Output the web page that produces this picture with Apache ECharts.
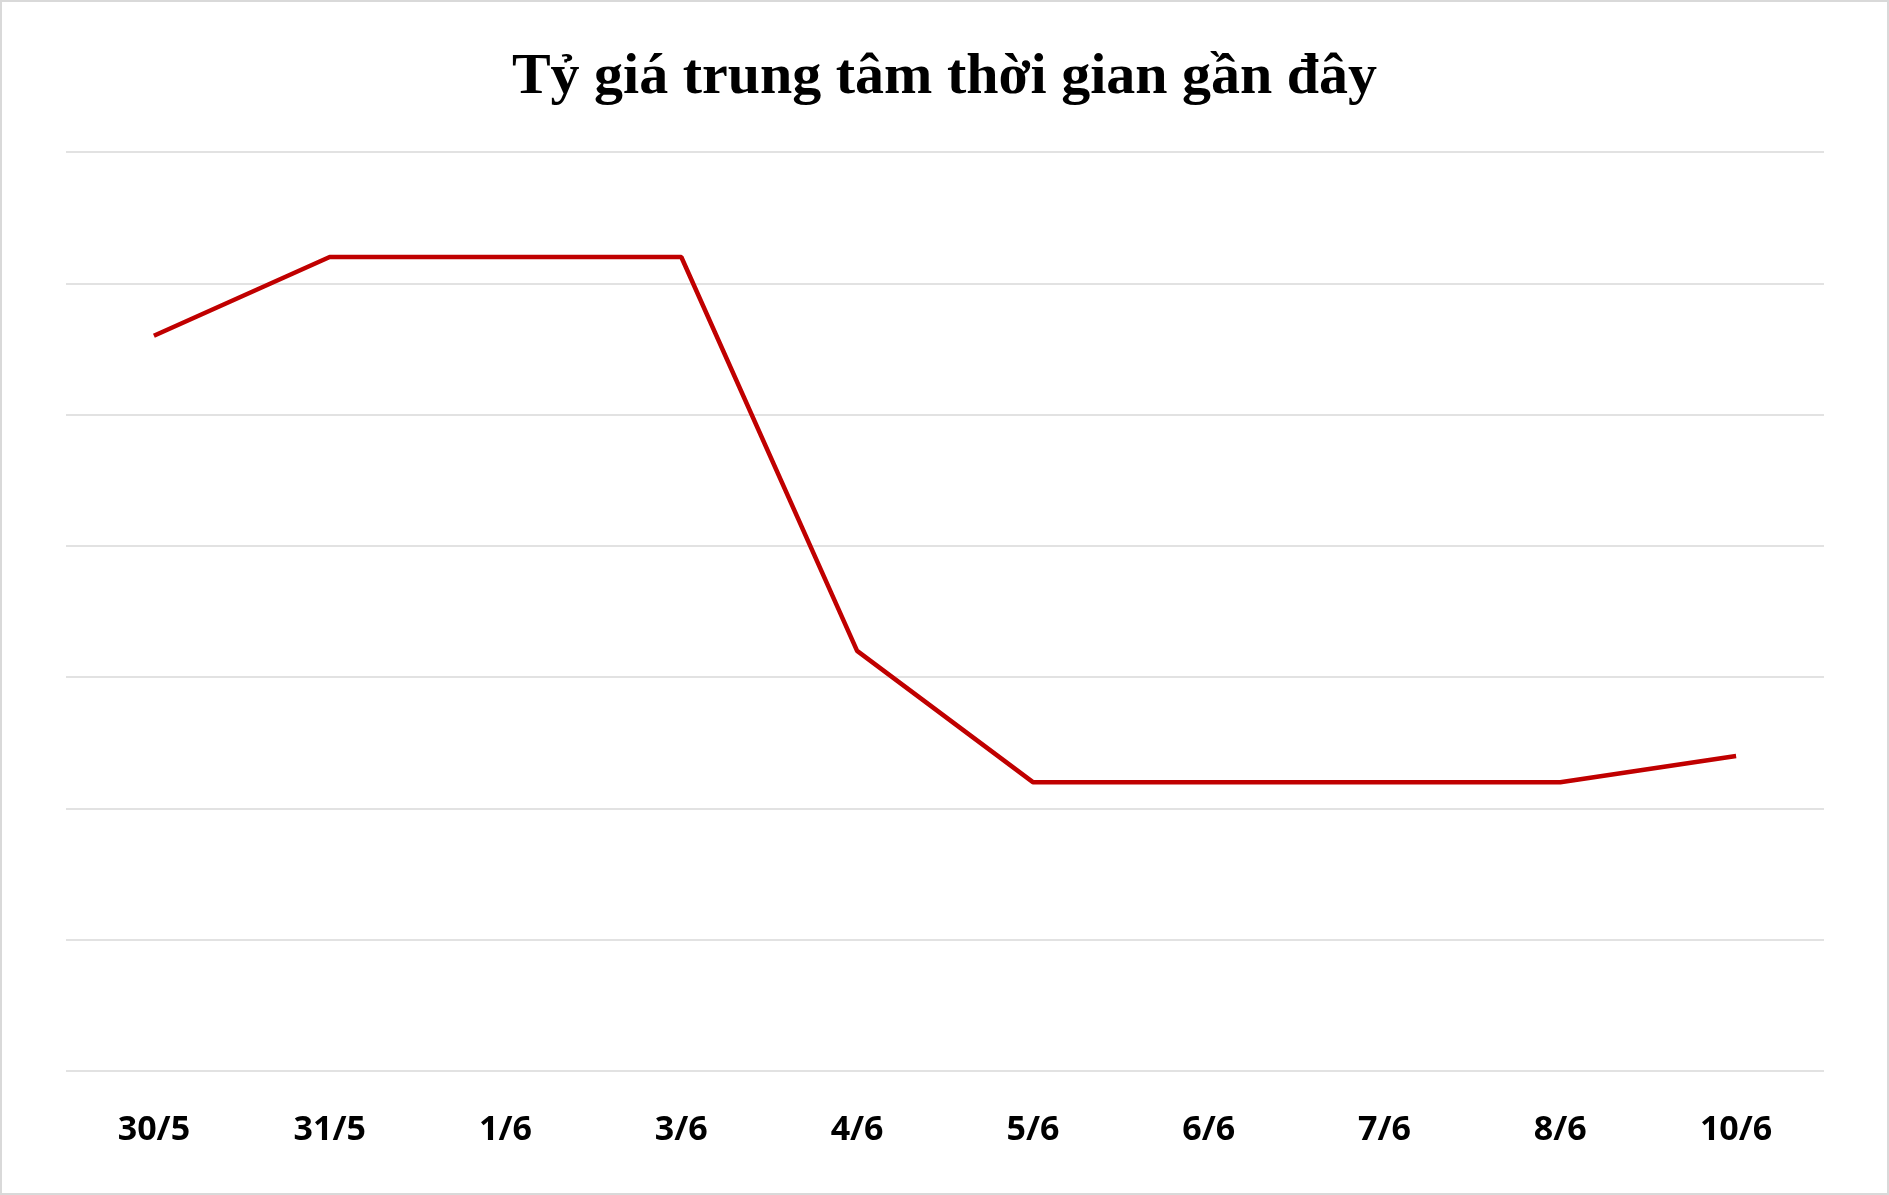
<!DOCTYPE html>
<html>
<head>
<meta charset="utf-8">
<script src="https://cdn.jsdelivr.net/npm/echarts@6/dist/echarts.min.js"></script>
<style>
html,body{margin:0;padding:0;background:#fff;}
#chart{width:1889px;height:1195px;box-sizing:border-box;border:2px solid #d9d9d9;}
</style>
</head>
<body>
<div id="chart"></div>
<script>
// dữ liệu tỷ giá trung tâm
var dates = ['30/5', '31/5', '1/6', '3/6', '4/6', '5/6', '6/6', '7/6', '8/6', '10/6'];
var rates = [24258, 24261, 24261, 24261, 24246, 24241, 24241, 24241, 24241, 24242];

var chart = echarts.init(document.getElementById('chart'));
var option = {
    animation: false,
    title: {
        text: 'Tỷ giá trung tâm thời gian gần đây',
        left: 'center',
        top: 42,
        textStyle: { fontFamily: 'Liberation Serif', fontWeight: 'bold', fontSize: 58, color: '#000' }
    },
    grid: { left: 64, right: 63, top: 150, bottom: 122 },
    xAxis: {
        type: 'category',
        data: dates,
        axisLine: { show: false },
        axisTick: { show: false },
        axisLabel: { color: '#000', fontWeight: 'bold', fontSize: 34, fontFamily: 'Open Sans', margin: 42 }
    },
    yAxis: {
        type: 'value',
        min: 24230,
        max: 24265,
        interval: 5,
        axisLabel: { show: false },
        splitLine: { lineStyle: { color: '#d9d9d9', width: 1.5 } }
    },
    series: [{
        type: 'line',
        data: rates,
        symbol: 'circle',
        symbolSize: 2,
        itemStyle: { color: '#c00000', opacity: 0 },
        lineStyle: { color: '#c00000', width: 4.5 },
        label: {
            show: true,
            position: 'inside',
            formatter: function (p) { return (p.value / 1000).toFixed(3); },
            color: '#fff',
            fontWeight: 'bold',
            fontSize: 31,
            fontFamily: 'Open Sans',
            padding: [8, 8, 6, 8],
            backgroundColor: new echarts.graphic.LinearGradient(0, 0, 0, 1, [
                { offset: 0, color: '#7ea6d8' },
                { offset: 1, color: '#2b5792' }
            ]),
            shadowColor: 'rgba(0,0,0,0.35)',
            shadowBlur: 4,
            shadowOffsetX: 3,
            shadowOffsetY: 3
        }
    }]
};
chart.setOption(option);

window.addEventListener('resize', function () {
    chart.resize();
});
</script>
</body>
</html>
